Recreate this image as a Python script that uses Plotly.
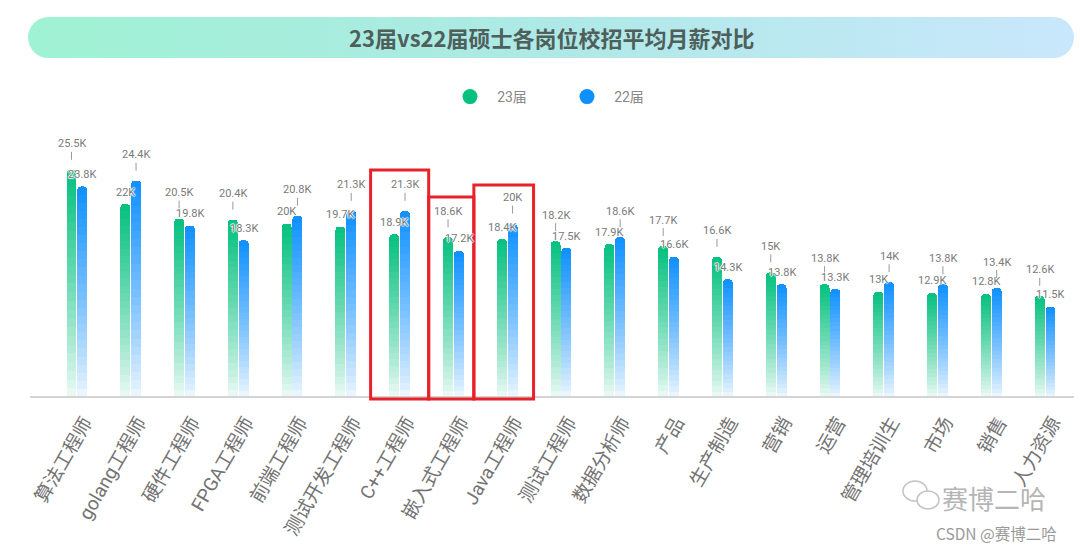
import base64
import plotly.graph_objects as go

# ---------------- data ----------------
categories = ["算法工程师", "golang工程师", "硬件工程师", "FPGA工程师", "前端工程师",
              "测试开发工程师", "C++工程师", "嵌入式工程师", "Java工程师", "测试工程师",
              "数据分析师", "产品", "生产制造", "营销", "运营", "管理培训生", "市场",
              "销售", "人力资源"]
salary_23 = [25.5, 22, 20.5, 20.4, 20, 19.7, 18.9, 18.6, 18.4, 18.2, 17.9, 17.7,
             16.6, 15, 13.8, 13, 12.9, 12.8, 12.6]
salary_22 = [23.8, 24.4, 19.8, 18.3, 20.8, 21.3, 21.3, 17.2, 20, 17.5, 18.6, 16.6,
             14.3, 13.8, 13.3, 14, 13.8, 13.4, 11.5]
series_names = ["23届", "22届"]
title_text = "23届vs22届硕士各岗位校招平均月薪对比"
highlight_idx = [6, 7, 8]  # C++, 嵌入式, Java

# ---------------- style ----------------
GREEN = (5, 192, 127)
BLUE = (14, 144, 255)
Y_MIN, Y_MAX = 2.25, 30.6
N_SEG = 26
BAR_W = 0.185
OFFSETS = [-0.1, 0.1]
LABEL_COLOR = "#7a7a7a"
HALO = "1px 0 1px white, -1px 0 1px white, 0 1px 1px white, 0 -1px 1px white"

W, H = 1080, 550
ML, MR, MT, MB = 50, 8, 120, 153
PW, PH = W - ML - MR, H - MT - MB


def px_x(x):
    return (x - ML) / PW


def px_y(y):
    return (H - MB - y) / PH


def blend(rgb, t):
    r, g, b = (round(255 + (c - 255) * t) for c in rgb)
    return f"rgb({r},{g},{b})"


fig = go.Figure()
n = len(categories)

for vals, off, col in [(salary_23, OFFSETS[0], GREEN), (salary_22, OFFSETS[1], BLUE)]:
    xs = [i + off for i in range(n)]
    fig.add_bar(x=xs, y=[Y_MIN] * n, width=BAR_W, marker=dict(color="white", line_width=0),
                showlegend=False, hoverinfo="skip")
    for k in range(N_SEG):
        t = 0.06 + 0.94 * ((k + 0.5) / N_SEG) ** 0.85
        fig.add_bar(x=xs, y=[(v - Y_MIN) / N_SEG for v in vals], width=BAR_W,
                    marker=dict(color=blend(col, t), line_width=0),
                    showlegend=False, hoverinfo="skip")

# legend entries
for name, col in zip(series_names, [GREEN, BLUE]):
    fig.add_scatter(x=[None], y=[None], mode="markers", name="\u2002" + name,
                    marker=dict(size=15, color=blend(col, 1.0)))

# value labels
annotations = []
for i in range(n):
    a, b = salary_23[i], salary_22[i]
    for v, off, high in [(a, OFFSETS[0], a >= b), (b, OFFSETS[1], b > a)]:
        txt = f"{v:g}K"
        font = dict(size=11, color=LABEL_COLOR, family="Roboto", shadow=HALO)
        if high:
            annotations.append(dict(x=i + off, y=v, xref="x", yref="y", text=txt,
                                    showarrow=True, ax=0, ay=-26, arrowhead=0,
                                    arrowwidth=1, arrowcolor="#9a9a9a", standoff=10,
                                    font=font))
        else:
            annotations.append(dict(x=i + off, y=v, xref="x", yref="y", text=txt,
                                    showarrow=False, yanchor="middle", yshift=12,
                                    font=font))

# title
annotations.append(dict(x=px_x(551), y=px_y(37), xref="paper", yref="paper",
                        xanchor="center", yanchor="middle",
                        text=f"<b>{title_text}</b>", showarrow=False,
                        font=dict(size=22, color="#4e5f5c", family="Noto Sans CJK SC")))
# watermark
annotations.append(dict(x=px_x(994), y=px_y(497), xref="paper", yref="paper",
                        xanchor="center", yanchor="middle",
                        text="赛博二哈", showarrow=False,
                        font=dict(size=26, color="#b5b5b5", family="Noto Sans CJK SC")))
annotations.append(dict(x=px_x(996), y=px_y(533), xref="paper", yref="paper",
                        xanchor="center", yanchor="middle",
                        text="CSDN @赛博二哈", showarrow=False,
                        font=dict(size=15.5, color="#9a9a9a", family="Noto Sans CJK SC")))

# shapes: axis line + highlight boxes + wechat-like icon outline
shapes = [dict(type="line", xref="paper", yref="paper", x0=px_x(30), x1=px_x(1074),
               y0=0, y1=0, line=dict(color="#d4d4d4", width=2))]
box_specs = [(highlight_idx[0] - 0.54, highlight_idx[0] + 0.54, 170),
             (highlight_idx[1] - 0.46, highlight_idx[1] + 0.38, 197),
             (highlight_idx[2] - 0.62, highlight_idx[2] + 0.49, 185)]
for x0, x1, top in box_specs:
    shapes.append(dict(type="rect", xref="x", yref="paper", x0=x0, x1=x1,
                       y0=px_y(399), y1=px_y(top), line=dict(color="#e8222b", width=3),
                       fillcolor="rgba(0,0,0,0)", layer="above"))
for cx, cy, rx, ry in [(915, 491, 12, 10), (928, 500, 11, 9)]:
    shapes.append(dict(type="circle", xref="paper", yref="paper",
                       x0=px_x(cx - rx), x1=px_x(cx + rx), y0=px_y(cy + ry), y1=px_y(cy - ry),
                       line=dict(color="#c4c4c4", width=1.5), fillcolor="white"))

# banner background (gradient rounded rect)
bw, bh = 1046, 41
svg = (f'<svg xmlns="http://www.w3.org/2000/svg" width="{bw}" height="{bh}" '
       f'viewBox="0 0 {bw} {bh}" preserveAspectRatio="none">'
       '<defs><linearGradient id="g" x1="0" y1="0" x2="1" y2="0">'
       '<stop offset="0" stop-color="#9ff2d3"/><stop offset="0.5" stop-color="#aee9e6"/>'
       '<stop offset="1" stop-color="#c9e7fc"/></linearGradient></defs>'
       f'<rect x="0" y="0" width="{bw}" height="{bh}" rx="20.5" ry="20.5" fill="url(#g)"/></svg>')
src = "data:image/svg+xml;base64," + base64.b64encode(svg.encode()).decode()
images = [dict(source=src, xref="paper", yref="paper", x=px_x(28), y=px_y(17),
               sizex=bw / PW, sizey=bh / PH, xanchor="left", yanchor="top",
               sizing="stretch", layer="below")]

fig.update_layout(
    width=W, height=H,
    margin=dict(l=ML, r=MR, t=MT, b=MB),
    barmode="stack", barcornerradius=5,
    plot_bgcolor="white", paper_bgcolor="white",
    annotations=annotations, shapes=shapes, images=images,
    legend=dict(orientation="h", x=px_x(450), y=px_y(97), xanchor="left", yanchor="middle",
                traceorder="normal",
                font=dict(size=14, color="#888888", family="Roboto, Noto Sans CJK SC"),
                entrywidth=72, itemclick=False, bgcolor="rgba(0,0,0,0)"),
    xaxis=dict(range=[-0.5, n - 0.5], tickmode="array", tickvals=list(range(n)),
               ticktext=categories, tickangle=-60, showgrid=False, zeroline=False,
               showline=False, ticks="outside", ticklen=6, tickcolor="rgba(0,0,0,0)",
               ticklabelshift=8,
               tickfont=dict(size=19, color="#737373", family="Roboto, Noto Sans CJK SC"),
               fixedrange=True),
    yaxis=dict(range=[Y_MIN, Y_MAX], showgrid=False, zeroline=False, showline=False,
               showticklabels=False, fixedrange=True),
)

fig.write_html("out.html")
